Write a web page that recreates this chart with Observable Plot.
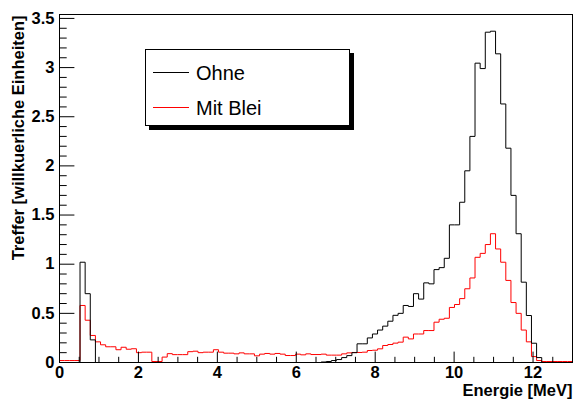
<!DOCTYPE html>
<html><head><meta charset="utf-8">
<script src="https://cdn.jsdelivr.net/npm/d3@7"></script>
<script src="https://cdn.jsdelivr.net/npm/@observablehq/plot@0.6"></script>
<style>
body{margin:0;background:#fff;}
#wrap{position:relative;width:576px;height:403px;}
#legend{position:absolute;left:145px;top:49px;width:203px;height:75px;border:1px solid #000;background:#fff;box-shadow:4px 4px 0 #000;font-family:"Liberation Sans",Arial,sans-serif;font-size:20px;color:#000;}
.sw{position:absolute;left:7px;width:36px;height:1px;}
.lab{position:absolute;left:50px;white-space:nowrap;height:24px;line-height:24px;}
</style>
</head><body>
<div id="wrap"><div id="chart"></div>
<div id="legend">
  <div class="sw" style="top:22px;background:#000"></div><div class="lab" style="top:11px">Ohne</div>
  <div class="sw" style="top:57px;background:#ff0000"></div><div class="lab" style="top:46px">Mit Blei</div>
</div></div>
<script>
const binWidth = 0.13;
const xMax = 13;
const ohne = [
0,0,0,0,1.02,0.70,0.23,0,0,0,
0,0,0,0,0,0,0,0,0,0,
0,0,0,0,0,0,0,0,0,0,
0,0,0,0,0,0,0,0,0,0,
0,0,0,0,0,0,0,0,0,0,
0,0.005,0.01,0.02,0.03,0.05,0.07,0.10,0.19,0.19,
0.25,0.29,0.33,0.37,0.42,0.48,0.50,0.58,0.57,0.70,
0.645,0.81,0.80,0.945,0.965,1.06,1.40,1.40,1.63,1.95,
2.30,3.045,2.99,3.36,3.37,3.14,2.63,2.18,1.70,1.31,
0.817,0.478,0.196,0.05,0,0,0,0,0,0];
const mitBlei = [
0.02,0.02,0.02,0.02,0.58,0.43,0.275,0.21,0.18,0.16,
0.16,0.13,0.155,0.135,0.14,0.10,0.105,0.105,0.01,0.01,
0.055,0.09,0.08,0.08,0.08,0.11,0.115,0.10,0.105,0.105,
0.13,0.105,0.095,0.095,0.088,0.098,0.088,0.088,0.068,0.085,
0.092,0.085,0.092,0.085,0.071,0.071,0.085,0.078,0.088,0.081,
0.081,0.085,0.075,0.075,0.075,0.088,0.098,0.102,0.102,0.105,
0.122,0.125,0.139,0.173,0.183,0.197,0.207,0.258,0.24,0.29,
0.29,0.325,0.325,0.41,0.44,0.45,0.56,0.59,0.65,0.75,
0.86,1.07,1.11,1.20,1.31,1.155,1.02,0.835,0.61,0.50,
0.33,0.21,0.06,0.02,0.01,0.01,0.01,0.01,0.01,0.01];
const xMajor = [0,2,4,6,8,10,12];
const yMajor = [0,0.5,1,1.5,2,2.5,3,3.5];
const xMinor = d3.range(0, 13.001, 0.5).filter(v => v % 2 !== 0);
const yMinor = d3.range(0, 3.54, 0.1).map(v => +v.toFixed(1)).filter(v => Math.abs(v*2 - Math.round(v*2)) > 1e-6);

function steps(vals) {
  const pts = [{x: 0, y: 0}];
  vals.forEach((v, i) => pts.push({x: +(i*binWidth).toFixed(3), y: v}));
  pts.push({x: xMax, y: vals[vals.length-1]});
  pts.push({x: xMax, y: 0});
  return pts;
}

const W = 576, H = 403, mL = 59, mR = 4, mT = 14, mB = 41;
const pw = W - mL - mR, ph = H - mT - mB;

const chart = Plot.plot({
  width: W, height: H,
  marginLeft: mL, marginRight: mR, marginTop: mT, marginBottom: mB,
  style: {fontFamily: "Liberation Sans, Arial, sans-serif", fontSize: "16.5px", fontWeight: "bold", background: "#fff", color: "#000"},
  x: {domain: [0, xMax]},
  y: {domain: [0, 3.54]},
  marks: [
    Plot.line(steps(mitBlei), {x: "x", y: "y", curve: "step-after", stroke: "#ff0000", strokeWidth: 1}),
    Plot.line(steps(ohne), {x: "x", y: "y", curve: "step-after", stroke: "#000", strokeWidth: 1}),
    Plot.ruleX(xMajor, {insetTop: ph - 10.4, stroke: "#000"}),
    Plot.ruleX(xMinor, {insetTop: ph - 5.2, stroke: "#000"}),
    Plot.ruleY(yMajor, {insetRight: pw - 15.4, stroke: "#000"}),
    Plot.ruleY(yMinor, {insetRight: pw - 7.7, stroke: "#000"}),
    Plot.frame({stroke: "#000", strokeWidth: 1}),
    Plot.axisX(xMajor, {tickSize: 0, tickPadding: 4, label: null, tickFormat: d => String(d)}),
    Plot.axisY(yMajor, {tickSize: 0, tickPadding: 5, label: null, tickFormat: d => String(d)}),
    Plot.text(["Energie [MeV]"], {frameAnchor: "bottom-right", dy: 28, textAnchor: "end", lineAnchor: "middle", fontSize: 16.5, fontWeight: "bold"}),
    Plot.text(["Treffer [willkuerliche Einheiten]"], {frameAnchor: "top-left", dx: -41, dy: 1, rotate: -90, textAnchor: "end", lineAnchor: "middle", fontSize: 16.5, fontWeight: "bold"})
  ]
});
document.getElementById("chart").appendChild(chart);
</script>
</body></html>
